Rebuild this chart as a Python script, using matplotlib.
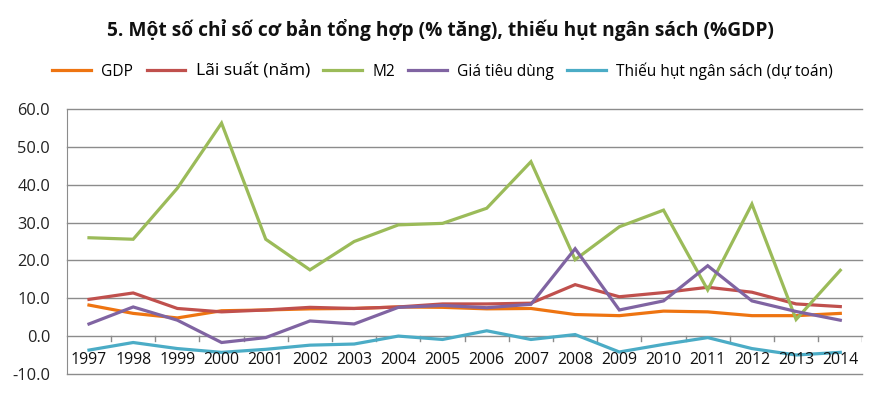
import numpy as np
import matplotlib as mpl
mpl.use('Agg')
import matplotlib.pyplot as plt

plt.rcParams['font.family'] = ['Open Sans', 'DejaVu Sans']

years = [str(y) for y in range(1997, 2015)]

gdp = [8.2, 6.0, 4.8, 6.7, 6.9, 7.2, 7.3, 7.7, 7.6, 7.2, 7.3, 5.7, 5.4, 6.6, 6.4, 5.4, 5.4, 6.0]
lai_suat = [9.7, 11.4, 7.3, 6.4, 6.9, 7.6, 7.3, 7.7, 8.5, 8.5, 8.7, 13.6, 10.4, 11.5, 12.9, 11.6, 8.5, 7.8]
m2 = [26.0, 25.6, 39.1, 56.3, 25.6, 17.5, 25.0, 29.4, 29.8, 33.8, 46.1, 20.2, 28.9, 33.3, 12.2, 34.9, 4.4, 17.4]
cpi = [3.2, 7.7, 4.2, -1.7, -0.4, 4.0, 3.2, 7.6, 8.1, 7.5, 8.4, 23.1, 6.9, 9.3, 18.6, 9.3, 6.5, 4.2]
thieu_hut = [-3.7, -1.7, -3.3, -4.3, -3.5, -2.4, -2.1, 0.0, -0.9, 1.4, -0.9, 0.4, -4.2, -2.2, -0.4, -3.3, -5.0, -4.3]

series = [
    ('GDP', gdp, '#EE7411'),
    ('Lãi suất (năm)', lai_suat, '#C0504D'),
    ('M2', m2, '#9BBB59'),
    ('Giá tiêu dùng', cpi, '#8064A2'),
    ('Thiếu hụt ngân sách (dự toán)', thieu_hut, '#4BACC6'),
]

fig = plt.figure(figsize=(8.8, 3.94), dpi=100)
ax = fig.add_axes([0.076, 0.051, 0.904, 0.672])

x = np.arange(len(years)) + 0.5
for name, vals, col in series:
    ax.plot(x, vals, color=col, lw=2.3, label=name, solid_joinstyle='miter')

ax.set_xlim(0, len(years))
ax.set_ylim(-10, 60)
ax.set_yticks(np.arange(-10, 61, 10))
ax.set_yticklabels(['%.1f' % v for v in np.arange(-10, 61, 10)])
# horizontal grid, drawn unclipped so the -10 and 60 lines show in full
for v in np.arange(-10, 61, 10):
    ax.axhline(v, color='#8C8C8C', lw=1.0, zorder=0.5, clip_on=False)

for s in ['top', 'right', 'bottom']:
    ax.spines[s].set_visible(False)
ax.spines['left'].set_color('#8C8C8C')
ax.tick_params(axis='y', length=0, labelsize=11.8, pad=12, colors='#222222')

# category axis crossing at zero
ax.set_xticks([])
for b in range(1, len(years) + 1):
    ax.plot([b, b], [0, -1.3], color='#8C8C8C', lw=1.0, zorder=1)
for xi, lab in zip(x, years):
    ax.text(xi, -6.2, lab, ha='center', va='center', fontsize=11.4, color='#111111')

fig.text(0.5, 0.925, '5. Một số chỉ số cơ bản tổng hợp (% tăng), thiếu hụt ngân sách (%GDP)',
         ha='center', va='center', fontsize=13.8, fontweight='bold', color='#111111')

leg = fig.legend(loc='center', bbox_to_anchor=(0.503, 0.82), ncol=5, frameon=False,
                 fontsize=11.2, handlelength=2.5, columnspacing=0.85, handletextpad=0.65)
leg.get_texts()[1].set_fontsize(12.6)

fig.savefig('out.png', dpi=100)
